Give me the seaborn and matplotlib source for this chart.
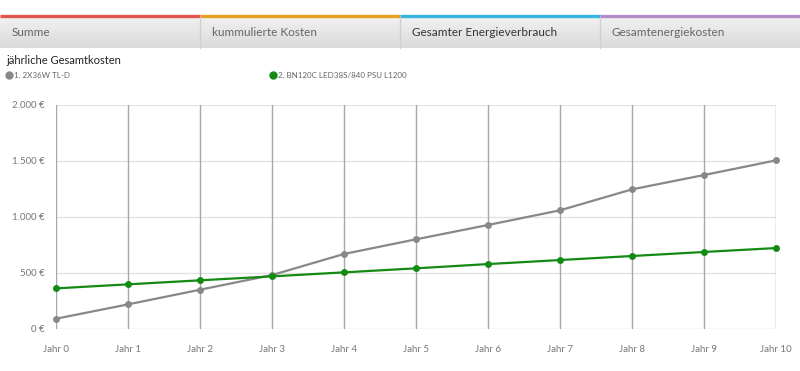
import pandas as pd
import seaborn as sns
import matplotlib.pyplot as plt
import numpy as np
from matplotlib.lines import Line2D
from matplotlib.colors import LinearSegmentedColormap

# Chart data
years = list(range(11))
year_labels = [f"Jahr {i}" for i in years]
series_names = ["1. 2X36W TL-D", "2. BN120C LED38S/840 PSU L1200"]
costs_tld = [89, 217, 348, 479, 667, 798, 926, 1057, 1244, 1372, 1503]
costs_led = [360, 396, 432, 467, 503, 539, 577, 613, 649, 685, 720]
y_ticks = [0, 500, 1000, 1500, 2000]
tab_names = ["Summe", "kummulierte Kosten", "Gesamter Energieverbrauch", "Gesamtenergiekosten"]
tab_colors = ["#e05550", "#e8a020", "#35b5e0", "#b58ac8"]

df = pd.DataFrame({
    "Jahr": years * 2,
    "Kosten": costs_tld + costs_led,
    "Serie": [series_names[0]] * 11 + [series_names[1]] * 11,
})

sns.set_style("white")
plt.rcParams['font.family'] = ['Lato', 'DejaVu Sans']

W, H = 800, 371
fig = plt.figure(figsize=(8, 3.71), dpi=100)

# tab bar at the top (gradient background)
hdr = fig.add_axes([0, 1 - 48 / H, 1, 31 / H])
grad_cmap = LinearSegmentedColormap.from_list("tab", ["#f1f1f1", "#dadada"])
hdr.imshow(np.linspace(0, 1, 64).reshape(-1, 1), aspect="auto", cmap=grad_cmap,
           extent=[0, 4, 1, 0])
hdr.set_xlim(0, 4)
hdr.set_ylim(1, 0)
hdr.axis("off")
for i, (name, col) in enumerate(zip(tab_names, tab_colors)):
    x0 = i * 200 / W
    fig.add_artist(Line2D([x0, x0 + 200 / W], [1 - 15.5 / H] * 2, transform=fig.transFigure,
                          color=col, lw=2.4, solid_capstyle="butt"))
    if i > 0:
        fig.add_artist(Line2D([x0, x0], [1 - 48 / H, 1 - 17 / H], transform=fig.transFigure,
                              color="#cfcfcf", lw=1))
    fig.text(x0 + 12 / W, 1 - 33 / H, name, fontsize=8.5, va="center",
             color="#333333" if i == 2 else "#666666")

fig.text(6 / W, 1 - 61 / H, "jährliche Gesamtkosten", fontsize=8, va="center", color="#222222")

palette = {series_names[0]: "#888888", series_names[1]: "#138a13"}
legend_x = [4 / W, 268 / W]
for name, lx in zip(series_names, legend_x):
    h = Line2D([], [], marker="o", linestyle="none", color=palette[name], markersize=5)
    fig.legend(handles=[h], labels=[name], loc="center left", bbox_to_anchor=(lx, 1 - 75 / H),
               frameon=False, fontsize=5.8, handletextpad=0.1, handlelength=1.2,
               labelcolor="#666666", borderaxespad=0, borderpad=0)

ax = fig.add_axes([56 / W, 1 - 328.7 / H, 720 / W, 224 / H])
sns.lineplot(data=df, x="Jahr", y="Kosten", hue="Serie", palette=palette, marker="o",
             markersize=5, markeredgewidth=0, linewidth=1.6, legend=False, ax=ax, clip_on=False,
             zorder=3)

ax.set_xlim(0, 10)
ax.set_ylim(0, 2000)
ax.set_xticks(years)
ax.set_xticklabels(year_labels)
ax.set_yticks(y_ticks)
ax.set_yticklabels([f"{v:,} €".replace(",", ".") for v in y_ticks])
ax.set_xlabel("")
ax.set_ylabel("")
ax.tick_params(axis="both", length=0, labelsize=7, labelcolor="#777777")
ax.tick_params(axis="x", pad=12)
ax.tick_params(axis="y", pad=8)

for y in y_ticks:
    ax.axhline(y, color="#e2e2e2", lw=1, zorder=1)
for x in years:
    ax.axvline(x, color="#a8a8a8", lw=1, zorder=2)
for s in ax.spines.values():
    s.set_visible(False)

fig.savefig("out.png", dpi=100)
